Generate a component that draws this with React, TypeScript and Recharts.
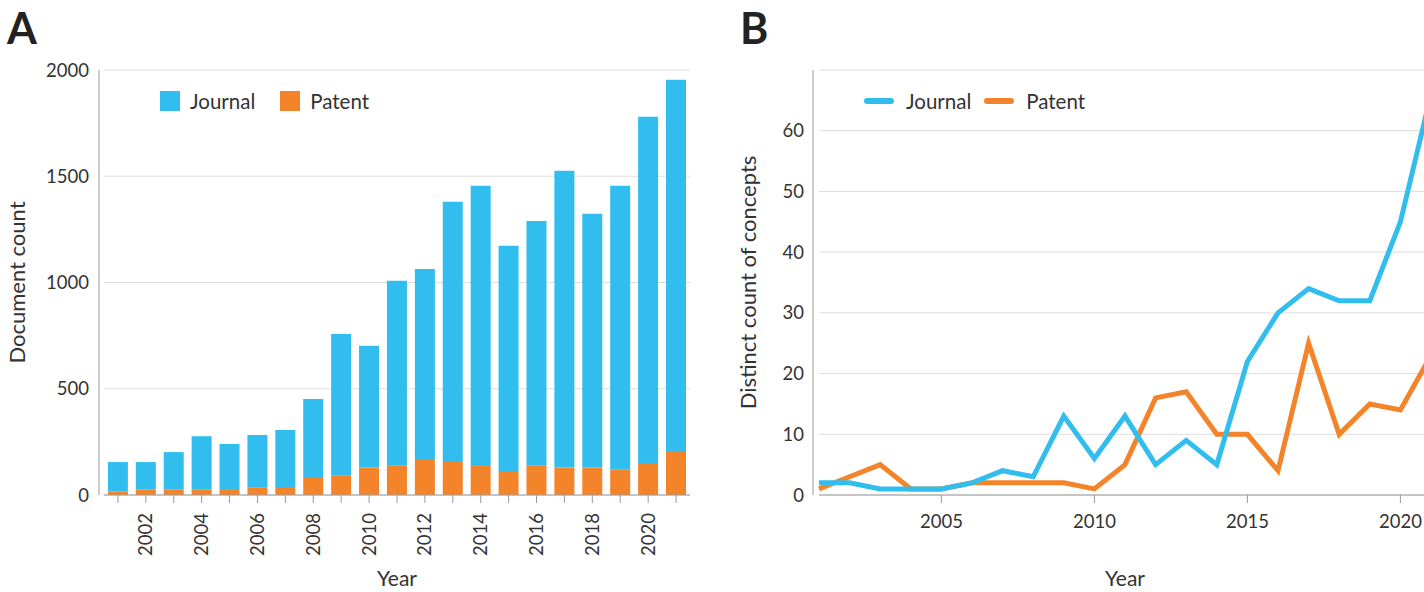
import React from 'react';
import { BarChart, Bar, LineChart, Line, XAxis, YAxis, CartesianGrid, Legend } from 'recharts';

const years = [2001, 2002, 2003, 2004, 2005, 2006, 2007, 2008, 2009, 2010, 2011, 2012, 2013, 2014, 2015, 2016, 2017, 2018, 2019, 2020, 2021];

// Panel A: document counts
const journalDocs = [139, 130, 177, 252, 212, 248, 268, 367, 667, 573, 870, 894, 1220, 1314, 1060, 1152, 1397, 1194, 1336, 1629, 1747];
const patentDocs = [16, 25, 25, 25, 28, 34, 38, 85, 91, 129, 138, 170, 160, 141, 113, 138, 129, 129, 119, 151, 207];
const docTicks = [0, 500, 1000, 1500, 2000];

// Panel B: distinct count of concepts
const journalConcepts = [2, 2, 1, 1, 1, 2, 4, 3, 13, 6, 13, 5, 9, 5, 22, 30, 34, 32, 32, 45, 66];
const patentConcepts = [1, 3, 5, 1, 1, 2, 2, 2, 2, 1, 5, 16, 17, 10, 10, 4, 25, 10, 15, 14, 23];
const conceptTicks = [0, 10, 20, 30, 40, 50, 60, 70];
const conceptYearTicks = [2005, 2010, 2015, 2020];

const legendOrder = ['journal', 'patent'];

const BLUE = '#31BEEE';
const ORANGE = '#F4842A';
const TEXT = '#333333';
const GRID = '#dedede';
const AXIS = '#9a9a9a';
const FONT = 'Lato, sans-serif';

const docData = years.map((year, i) => ({ year, journal: journalDocs[i], patent: patentDocs[i] }));
const conceptData = years.map((year, i) => ({ year, journal: journalConcepts[i], patent: patentConcepts[i] }));

const sortPayload = (payload: any[] = []) =>
  [...payload].sort((a, b) => legendOrder.indexOf(a.dataKey) - legendOrder.indexOf(b.dataKey));

const SquareLegend = (props: any) => (
  <div style={{ display: 'flex', alignItems: 'center', height: 20, fontFamily: FONT, fontSize: 20.5, color: TEXT }}>
    {sortPayload(props.payload).map((p: any) => (
      <div key={p.dataKey} style={{ display: 'flex', alignItems: 'center', marginRight: 25 }}>
        <div style={{ width: 20, height: 20, background: p.color, marginRight: 10 }} />
        <span style={{ lineHeight: '20px' }}>{p.value}</span>
      </div>
    ))}
  </div>
);

const LineLegend = (props: any) => (
  <div style={{ display: 'flex', alignItems: 'center', height: 20, fontFamily: FONT, fontSize: 20.5, color: TEXT }}>
    {sortPayload(props.payload).map((p: any) => (
      <div key={p.dataKey} style={{ display: 'flex', alignItems: 'center', marginRight: 13 }}>
        <div style={{ width: 30, height: 6, borderRadius: 3, background: p.color, marginRight: 12 }} />
        <span style={{ lineHeight: '20px' }}>{p.value}</span>
      </div>
    ))}
  </div>
);

const RotatedTick = (props: any) => {
  const { x, y, payload } = props;
  if (payload.value % 2 !== 0) return <g />;
  return (
    <text
      x={x}
      y={y}
      transform={`rotate(-90, ${x}, ${y})`}
      textAnchor="end"
      dy="0.35em"
      fill={TEXT}
      fontSize={18.5}
      fontFamily={FONT}
    >
      {payload.value}
    </text>
  );
};

const tickStyle = { fill: TEXT, fontSize: 18.5, fontFamily: FONT };
const labelStyle = { fill: TEXT, fontSize: 22, fontFamily: FONT };
const yearLabelStyle = { fill: TEXT, fontSize: 21, fontFamily: FONT };

const panelLetter = (left: number): React.CSSProperties => ({
  position: 'absolute',
  left,
  top: 6,
  fontFamily: FONT,
  fontWeight: 700,
  fontSize: 43,
  lineHeight: '43px',
  color: '#222',
});

export default function App() {
  return (
    <div style={{ position: 'absolute', left: 0, top: 0, width: 1424, height: 592, overflow: 'hidden', background: '#fff' }}>
      <div style={panelLetter(7)}>A</div>
      <div style={panelLetter(740)}>B</div>

      <div style={{ position: 'absolute', left: 0, top: 0 }}>
        <BarChart width={700} height={592} data={docData} margin={{ top: 50, right: 10, left: 0, bottom: 0 }} barCategoryGap="14%">
          <CartesianGrid vertical={false} stroke={GRID} />
          <XAxis
            dataKey="year"
            interval={0}
            height={97}
            tickSize={8}
            tickMargin={10}
            axisLine={{ stroke: AXIS }}
            tickLine={{ stroke: AXIS }}
            tick={<RotatedTick />}
            label={{ value: 'Year', position: 'insideBottom', offset: 6, style: yearLabelStyle }}
          />
          <YAxis
            width={104}
            domain={[0, 2000]}
            ticks={docTicks}
            tickLine={false}
            tickMargin={9}
            axisLine={{ stroke: AXIS, transform: 'translate(-5,0)' }}
            tick={tickStyle}
            label={{ value: 'Document count', angle: -90, position: 'insideLeft', offset: 17, style: { ...labelStyle, textAnchor: 'middle' } }}
          />
          <Legend verticalAlign="top" align="left" content={<SquareLegend />} wrapperStyle={{ top: 91, left: 160, width: 'auto' }} />
          <Bar dataKey="patent" name="Patent" stackId="a" fill={ORANGE} isAnimationActive={false} />
          <Bar dataKey="journal" name="Journal" stackId="a" fill={BLUE} isAnimationActive={false} />
        </BarChart>
      </div>

      <div style={{ position: 'absolute', left: 700, top: 0 }}>
        <LineChart width={760} height={592} data={conceptData} margin={{ top: 50, right: 29, left: 0, bottom: 0 }}>
          <CartesianGrid vertical={false} stroke={GRID} />
          <XAxis
            dataKey="year"
            type="number"
            domain={[2001, 2021]}
            ticks={conceptYearTicks}
            height={97}
            tickSize={8}
            tickMargin={12}
            axisLine={{ stroke: AXIS }}
            tickLine={{ stroke: AXIS }}
            tick={tickStyle}
            label={{ value: 'Year', position: 'insideBottom', offset: 6, style: yearLabelStyle }}
          />
          <YAxis
            width={119}
            domain={[0, 70]}
            ticks={conceptTicks}
            tickFormatter={(v: number) => (v === 70 ? '' : String(v))}
            tickLine={false}
            tickMargin={9}
            axisLine={{ stroke: AXIS, transform: 'translate(-6,0)' }}
            tick={tickStyle}
            label={{ value: 'Distinct count of concepts', angle: -90, position: 'insideLeft', offset: 48, style: { ...labelStyle, textAnchor: 'middle' } }}
          />
          <Legend verticalAlign="top" align="left" content={<LineLegend />} wrapperStyle={{ top: 91, left: 164, width: 'auto' }} />
          <Line type="linear" dataKey="patent" name="Patent" stroke={ORANGE} strokeWidth={5} dot={false} activeDot={false} isAnimationActive={false} />
          <Line type="linear" dataKey="journal" name="Journal" stroke={BLUE} strokeWidth={5} dot={false} activeDot={false} isAnimationActive={false} />
        </LineChart>
      </div>
    </div>
  );
}
